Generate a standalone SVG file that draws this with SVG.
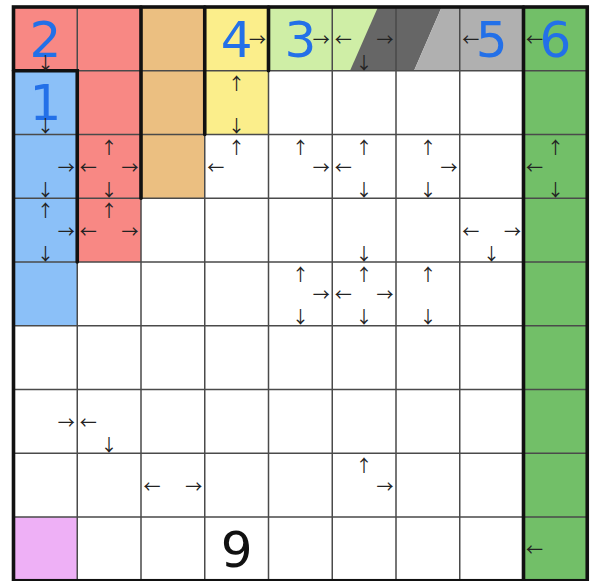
<svg xmlns="http://www.w3.org/2000/svg" width="590" height="581" viewBox="0 0 590 581">
<style>
.thin{stroke:#4a4a4a;stroke-width:1.5;fill:none}
.thick{stroke:#111;stroke-width:3.6;fill:none;stroke-linecap:round}
.num{font-family:"DejaVu Sans",Verdana,sans-serif;font-size:50px;fill:#2370e8;text-anchor:middle}
.ar{font-family:"Noto Sans CJK JP",sans-serif;font-size:17px;fill:#222;text-anchor:middle;dominant-baseline:central}
</style>
<rect x="0" y="0" width="590" height="581" fill="#fff"/>
<g id="fills">
<rect x="13.5" y="7" width="127.5" height="63.75" fill="#f88884"/>
<rect x="77.25" y="70.75" width="63.75" height="191.25" fill="#f88884"/>
<rect x="141" y="7" width="63.75" height="191.25" fill="#ebbf81"/>
<rect x="204.75" y="7" width="63.75" height="127.5" fill="#fbee8b"/>
<rect x="268.5" y="7" width="127.5" height="63.75" fill="#cfeea6"/>
<polygon points="378,7 441.7,7 414,70.75 350,70.75" fill="#666666"/>
<polygon points="441.7,7 523.5,7 523.5,70.75 414,70.75" fill="#b0b0b0"/>
<rect x="523.5" y="7" width="63.75" height="573.75" fill="#72bf68"/>
<rect x="13.5" y="70.75" width="63.75" height="255" fill="#8bc0f8"/>
<rect x="13.5" y="517" width="63.75" height="63.75" fill="#eeb0f6"/>
</g>
<g id="grid" class="thin">
<path d="M77.25 7V580.75M141 7V580.75M204.75 7V580.75M268.5 7V580.75M332.25 7V580.75M396 7V580.75M459.75 7V580.75M523.5 7V580.75"/>
<path d="M13.5 70.75H587.25M13.5 134.5H587.25M13.5 198.25H587.25M13.5 262H587.25M13.5 325.75H587.25M13.5 389.5H587.25M13.5 453.25H587.25M13.5 517H587.25"/>
</g>
<g id="borders" class="thick">
<rect x="13.5" y="7" width="573.75" height="573.75"/>
<path d="M13.5 70.75H77.25V262"/>
<path d="M141 7V198.25"/>
<path d="M204.75 7V134.5"/>
<path d="M268.5 7V70.75"/>
<path d="M523.5 7V580.75"/>
</g>
<g id="numbers">
<text class="num" x="45.4" y="57">2</text>
<text class="num" x="45.4" y="120">1</text>
<text class="num" x="236.6" y="57">4</text>
<text class="num" x="300.4" y="57">3</text>
<text class="num" x="491.6" y="57">5</text>
<text class="num" x="555.4" y="57">6</text>
<text class="num" x="236.6" y="567" style="fill:#111">9</text>
</g>
<g id="arrows">
<text class="ar" x="45.4" y="61">↓</text>
<text class="ar" x="257.5" y="38.9">→</text>
<text class="ar" x="321.3" y="38.9">→</text>
<text class="ar" x="343.3" y="38.9">←</text>
<text class="ar" x="385" y="38.9">→</text>
<text class="ar" x="364.1" y="61">↓</text>
<text class="ar" x="470.8" y="38.9">←</text>
<text class="ar" x="534.5" y="38.9">←</text>
<text class="ar" x="45.4" y="124.5">↓</text>
<text class="ar" x="236.6" y="82.3">↑</text>
<text class="ar" x="236.6" y="124.5">↓</text>
<text class="ar" x="66.3" y="166.4">→</text>
<text class="ar" x="45.4" y="188.3">↓</text>
<text class="ar" x="109.1" y="146">↑</text>
<text class="ar" x="88.3" y="166.4">←</text>
<text class="ar" x="130" y="166.4">→</text>
<text class="ar" x="109.1" y="188.3">↓</text>
<text class="ar" x="236.6" y="146">↑</text>
<text class="ar" x="215.8" y="166.4">←</text>
<text class="ar" x="300.4" y="146">↑</text>
<text class="ar" x="321.3" y="166.4">→</text>
<text class="ar" x="364.1" y="146">↑</text>
<text class="ar" x="343.3" y="166.4">←</text>
<text class="ar" x="364.1" y="188.3">↓</text>
<text class="ar" x="427.9" y="146">↑</text>
<text class="ar" x="449" y="166.4">→</text>
<text class="ar" x="427.9" y="188.3">↓</text>
<text class="ar" x="555.4" y="146">↑</text>
<text class="ar" x="534.5" y="166.4">←</text>
<text class="ar" x="555.4" y="188.3">↓</text>
<text class="ar" x="45.4" y="209.8">↑</text>
<text class="ar" x="66.3" y="230.1">→</text>
<text class="ar" x="45.4" y="252">↓</text>
<text class="ar" x="109.1" y="209.8">↑</text>
<text class="ar" x="88.3" y="230.1">←</text>
<text class="ar" x="130" y="230.1">→</text>
<text class="ar" x="364.1" y="252">↓</text>
<text class="ar" x="470.8" y="230.1">←</text>
<text class="ar" x="512.5" y="230.1">→</text>
<text class="ar" x="491.6" y="252">↓</text>
<text class="ar" x="300.4" y="273.5">↑</text>
<text class="ar" x="321.3" y="293.9">→</text>
<text class="ar" x="300.4" y="315.7">↓</text>
<text class="ar" x="364.1" y="273.5">↑</text>
<text class="ar" x="343.3" y="293.9">←</text>
<text class="ar" x="385" y="293.9">→</text>
<text class="ar" x="364.1" y="315.7">↓</text>
<text class="ar" x="427.9" y="273.5">↑</text>
<text class="ar" x="427.9" y="315.7">↓</text>
<text class="ar" x="66.3" y="421.4">→</text>
<text class="ar" x="88.3" y="421.4">←</text>
<text class="ar" x="109.1" y="443.2">↓</text>
<text class="ar" x="152" y="485.1">←</text>
<text class="ar" x="193.8" y="485.1">→</text>
<text class="ar" x="364.1" y="464.8">↑</text>
<text class="ar" x="385" y="485.1">→</text>
<text class="ar" x="534.5" y="548.9">←</text>
</g>
</svg>
